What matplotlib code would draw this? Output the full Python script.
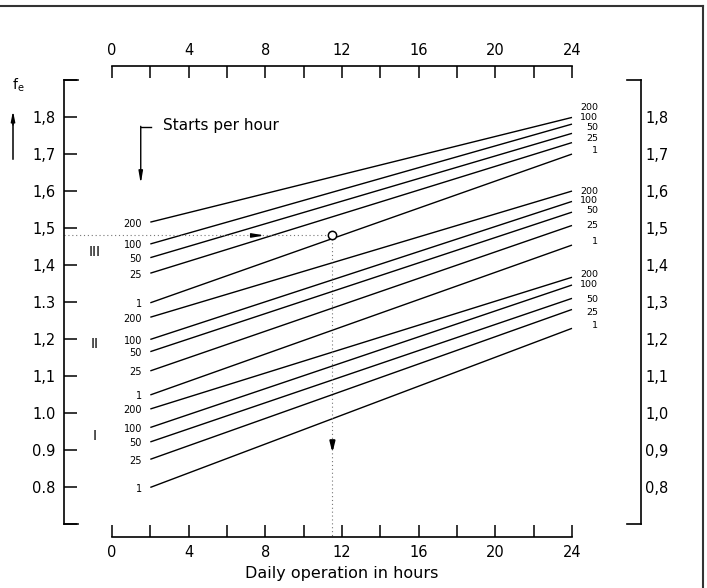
import matplotlib.pyplot as plt
from matplotlib.lines import Line2D
from matplotlib.ticker import FixedLocator, FixedFormatter

# Daily operation (h) at the two ends of every line
hours = [2, 24]
starts = ['200', '100', '50', '25', '1']

# f_e at 2 h and at 24 h for each number of starts per hour (200, 100, 50, 25, 1)
class3_start = [1.516, 1.457, 1.420, 1.378, 1.298]
class3_end = [1.799, 1.781, 1.756, 1.731, 1.700]
class2_start = [1.259, 1.199, 1.166, 1.114, 1.049]
class2_end = [1.600, 1.572, 1.543, 1.507, 1.454]
class1_start = [1.011, 0.961, 0.922, 0.875, 0.799]
class1_end = [1.367, 1.346, 1.310, 1.280, 1.229]

# example reading
reading_x = 11.5
reading_y = 1.48

x_major = [0, 4, 8, 12, 16, 20, 24]
x_minor = [2, 6, 10, 14, 18, 22]
y_ticks = [0.7, 0.8, 0.9, 1.0, 1.1, 1.2, 1.3, 1.4, 1.5, 1.6, 1.7, 1.8, 1.9]
y_left_labels = ['', '0.8', '0.9', '1.0', '1,1', '1,2', '1.3', '1,4', '1,5', '1,6', '1,7', '1,8', '']
y_right_labels = ['', '0,8', '0,9', '1,0', '1,1', '1,2', '1,3', '1,4', '1,5', '1,6', '1,7', '1,8', '']

plt.rcParams['font.family'] = 'DejaVu Sans'

fig = plt.figure(figsize=(7.07, 5.88), dpi=100)
ax = fig.add_axes([64 / 707, 51 / 588, 577 / 707, 471 / 588])
x_lo, x_hi = -2.504, 27.6
ax.set_xlim(x_lo, x_hi)
ax.set_ylim(0.665, 1.938)

# vertical nudges (points) of the stacked labels at the right end
right_shift = {
    'III': [6.8, 4.6, 4.4, 3.2, 2.4],
    'II': [0.0, 0.7, 1.4, 0.0, 2.9],
    'I': [2.2, 0.7, -0.7, -2.2, 2.2],
}
numeral_y = {'III': 1.435, 'II': 1.186, 'I': 0.938}

groups = [('III', class3_start, class3_end), ('II', class2_start, class2_end),
          ('I', class1_start, class1_end)]
for name, y0s, y1s in groups:
    for lbl, y0, y1, dy in zip(starts, y0s, y1s, right_shift[name]):
        ax.plot(hours, [y0, y1], color='black', lw=1.0, solid_capstyle='butt')
        ax.annotate(lbl, (hours[0], y0), xytext=(-6, -1), textcoords='offset points',
                    ha='right', va='center', fontsize=7)
        ax.annotate(lbl, (hours[1], y1), xytext=(19, dy), textcoords='offset points',
                    ha='right', va='center', fontsize=6.8)
    ax.text(-0.9, numeral_y[name], name, ha='center', va='center', fontsize=10)

# dotted reading lines
ax.plot([x_lo, reading_x], [reading_y, reading_y], color='#777777', lw=0.8,
        linestyle=(0, (1, 2.5)))
ax.plot([reading_x, reading_x], [reading_y, 0.665], color='#777777', lw=0.8,
        linestyle=(0, (1, 2.5)))
ax.plot([reading_x], [reading_y], marker='o', ms=6, mfc='white', mec='black', mew=1.1)
ax.annotate('', xy=(8.1, reading_y), xytext=(7.4, reading_y),
            arrowprops=dict(arrowstyle='-|>,head_length=0.7,head_width=0.12',
                            color='black', lw=1))
ax.annotate('', xy=(reading_x, 0.885), xytext=(reading_x, 0.93),
            arrowprops=dict(arrowstyle='-|>,head_length=0.6,head_width=0.15',
                            color='black', lw=1.5))

# "Starts per hour" pointer
ax.text(2.66, 1.778, 'Starts per hour', ha='left', va='center', fontsize=11)
ax.plot([1.5, 2.02], [1.774, 1.774], color='black', lw=1)
ax.annotate('', xy=(1.5, 1.620), xytext=(1.5, 1.775),
            arrowprops=dict(arrowstyle='-|>,head_length=0.7,head_width=0.12',
                            color='black', lw=1, shrinkA=0, shrinkB=0))

# spines
for side in ['left', 'right']:
    ax.spines[side].set_bounds(0.7, 1.9)
for side in ['top', 'bottom']:
    ax.spines[side].set_bounds(0, 24)
for sp in ax.spines.values():
    sp.set_linewidth(1.2)

# end caps of the two vertical scales
cap = 0.72
for yc in [y_ticks[0], y_ticks[-1]]:
    ax.plot([x_lo, x_lo + cap], [yc, yc], color='black', lw=1.2, clip_on=False)
    ax.plot([x_hi - cap, x_hi], [yc, yc], color='black', lw=1.2, clip_on=False)

ax.xaxis.set_major_locator(FixedLocator(x_major))
ax.xaxis.set_minor_locator(FixedLocator(x_minor))
ax.tick_params(axis='x', which='both', direction='in', top=True, bottom=True,
               labeltop=True, labelbottom=True, length=8.6, width=1.1, pad=6)
ax.tick_params(axis='x', which='major', labelsize=10.5)

ax.yaxis.set_major_locator(FixedLocator(y_ticks))
ax.yaxis.set_major_formatter(FixedFormatter(y_left_labels))
ax.tick_params(axis='y', which='both', direction='in', left=True, right=True,
               labelleft=True, labelright=False, length=9.5, width=1.1, pad=6,
               labelsize=10.5)

axr = ax.twinx()
axr.set_ylim(ax.get_ylim())
for sp in axr.spines.values():
    sp.set_visible(False)
axr.yaxis.set_major_locator(FixedLocator(y_ticks))
axr.yaxis.set_major_formatter(FixedFormatter(y_right_labels))
axr.tick_params(axis='y', direction='in', length=0, pad=3, labelsize=10.5)

ax.set_xlabel('Daily operation in hours', fontsize=11.5)
ax.xaxis.set_label_coords(0.482, -0.062)

# f_e symbol with upward arrow
fig.text(18 / 707, 1 - 85 / 588, 'f$_{\\rm e}$', ha='center', va='center', fontsize=10)
fig.add_artist(Line2D([13 / 707, 13 / 707], [1 - 159 / 588, 1 - 118 / 588],
                      color='black', lw=1.1))
ax.annotate('', xy=(13 / 707, 1 - 111 / 588), xytext=(13 / 707, 1 - 125 / 588),
            xycoords='figure fraction', textcoords='figure fraction',
            arrowprops=dict(arrowstyle='-|>,head_length=0.6,head_width=0.12',
                            color='black', lw=1, shrinkA=0, shrinkB=0))

# page frame
fig.add_artist(Line2D([0, 703 / 707], [1 - 6 / 588, 1 - 6 / 588], color='#333333', lw=1.5))
fig.add_artist(Line2D([703 / 707, 703 / 707], [1 - 6 / 588, 0], color='#333333', lw=1.5))

fig.savefig('out.png', dpi=100)
